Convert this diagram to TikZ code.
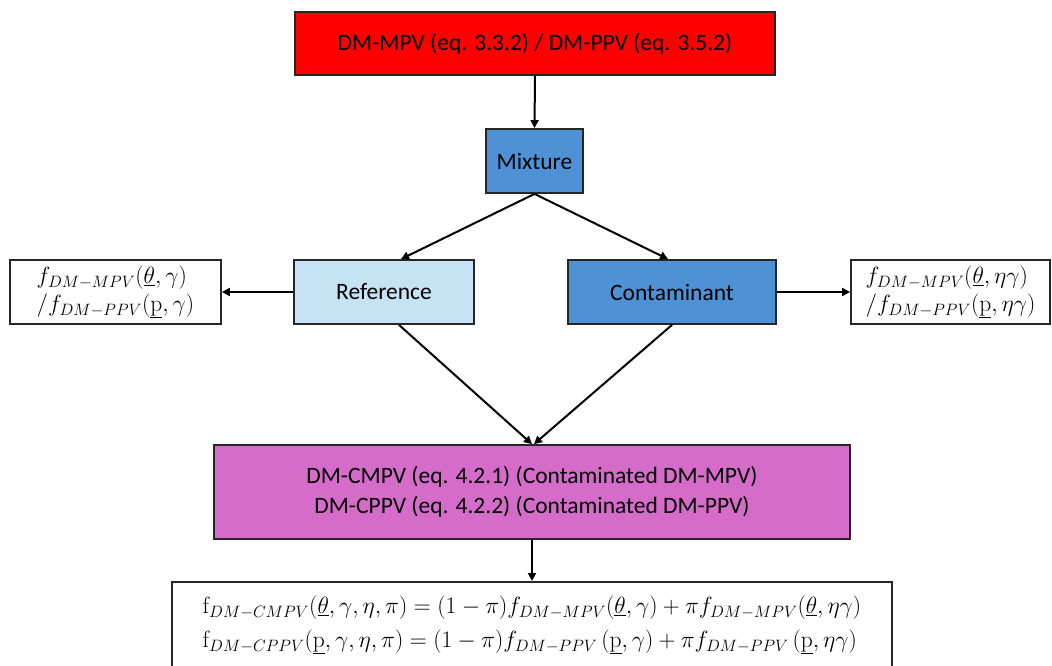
\RequirePackage{fix-cm}
\documentclass[tikz,border=0pt]{standalone}
\usepackage[no-math]{fontspec}
\setmainfont{Carlito}
\usetikzlibrary{arrows.meta}
\definecolor{topred}{RGB}{255,0,0}
\definecolor{midblue}{RGB}{79,145,213}
\definecolor{lightblue}{RGB}{197,227,244}
\definecolor{pinkbox}{RGB}{214,108,202}
\tikzset{
  box/.style={draw=black!85, line width=1.8pt, rectangle, inner sep=0pt, align=center,
    font=\fontsize{23.5}{30}\selectfont},
  fbox/.style={draw=black!85, line width=1.8pt, rectangle, inner sep=0pt, align=left,
    font=\fontsize{23.5}{28}\selectfont},
  conn/.style={line width=2pt, -{Triangle[length=8pt,width=8pt]}}
}
\begin{document}
\begin{tikzpicture}[x=1pt,y=-1pt]
\useasboundingbox (0,0) rectangle (1052,665);
\clip (0,0) rectangle (1052,665);
\node[box, fill=topred, minimum width=480pt, minimum height=63pt] (dm) at (535,43.5) {DM-MPV (eq. 3.3.2) / DM-PPV (eq. 3.5.2)};
\node[box, fill=midblue, minimum width=97pt, minimum height=64pt] (mix) at (534.5,161) {Mixture};
\node[box, fill=lightblue, minimum width=180pt, minimum height=64pt] (ref) at (384,292) {Reference};
\node[box, fill=midblue, minimum width=208pt, minimum height=64pt] (con) at (672,292) {Contaminant};
\node[fbox, minimum width=211pt, minimum height=64pt] (lf) at (115.5,292)
  {$f_{DM-MPV}(\underline{\theta},\gamma)$\\$/f_{DM-PPV}(\underline{\mathrm{p}},\gamma)$};
\node[fbox, minimum width=199pt, minimum height=64pt] (rf) at (950.5,292)
  {$f_{DM-MPV}(\underline{\theta},\eta\gamma)$\\$/f_{DM-PPV}(\underline{\mathrm{p}},\eta\gamma)$};
\node[box, fill=pinkbox, minimum width=636pt, minimum height=94pt] (cont) at (532,492)
  {DM-CMPV (eq. 4.2.1) (Contaminated DM-MPV)\\DM-CPPV (eq. 4.2.2) (Contaminated DM-PPV)};
\node[fbox, anchor=north, minimum width=720pt, inner ysep=14pt, align=left,
  font=\fontsize{23.5}{34}\selectfont] (eq) at (532,581)
  {$\mathrm{f}_{DM-CMPV}(\underline{\theta},\gamma,\eta,\pi)=(1-\pi)f_{DM-MPV}\big(\underline{\theta},\gamma\big)+\pi f_{DM-MPV}\big(\underline{\theta},\eta\gamma\big)$\\
   $\mathrm{f}_{DM-CPPV}(\underline{\mathrm{p}},\gamma,\eta,\pi)=(1-\pi)f_{DM-PPV}\,\big(\underline{\mathrm{p}},\gamma\big)+\pi f_{DM-PPV}\,\big(\underline{\mathrm{p}},\eta\gamma\big)$};
\draw[conn] (dm.south) -- (mix.north);
\draw[conn] (mix.south) -- ([xshift=17pt]ref.north);
\draw[conn] (mix.south) -- ([xshift=-4pt]con.north);
\draw[conn] ([xshift=15pt]ref.south) -- ([xshift=0pt]cont.north);
\draw[conn] (con.south) -- ([xshift=2pt]cont.north);
\draw[conn] (ref.west) -- (lf.east);
\draw[conn] (con.east) -- (rf.west);
\draw[conn] (cont.south) -- (eq.north);
\end{tikzpicture}
\end{document}
